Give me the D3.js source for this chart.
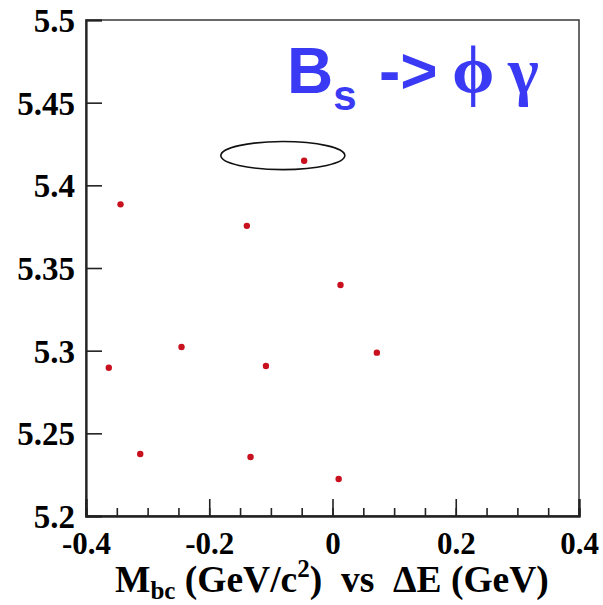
<!DOCTYPE html>
<html><head><meta charset="utf-8">
<script src="https://cdn.jsdelivr.net/npm/d3@7"></script>
<style>body{margin:0;background:#fff}svg{display:block}</style>
</head><body>
<svg id="c" width="603" height="605"></svg>
<script>
// Data
const deltaE = [-0.344, -0.139, 0.013, -0.245, -0.363, -0.108, 0.072, -0.312, -0.133, 0.010, -0.046];
const mbc    = [5.3885, 5.3755, 5.3397, 5.3022, 5.2897, 5.2907, 5.2988, 5.2375, 5.2357, 5.2224, 5.4149];
const xTickLabels = ["-0.4", "-0.2", "0", "0.2", "0.4"];
const xTickValues = [-0.4, -0.2, 0, 0.2, 0.4];
const yTickLabels = ["5.2", "5.25", "5.3", "5.35", "5.4", "5.45", "5.5"];
const yTickValues = [5.2, 5.25, 5.3, 5.35, 5.4, 5.45, 5.5];
const ellipseCenter = [-0.0806, 5.418];
const ellipseRadii = [0.1006, 0.0085];

const svg = d3.select("#c");
const L = 86, R = 579, T = 20, B = 516;
const x = d3.scaleLinear().domain([-0.4, 0.4]).range([L, R]);
const y = d3.scaleLinear().domain([5.2, 5.5]).range([B, T]);

// frame
svg.append("rect").attr("x", L).attr("y", T).attr("width", R - L).attr("height", B - T)
  .attr("fill", "none").attr("stroke", "#444").attr("stroke-width", 1.6);

const tickFont = "'Liberation Serif', 'Times New Roman', serif";

// x minor ticks
const xMinor = d3.range(-0.4, 0.4001, 0.05).map(v => +v.toFixed(2));
const gxMinor = svg.append("g").attr("transform", `translate(0,${B})`)
  .call(d3.axisBottom(x).tickValues(xMinor).tickSize(-8).tickFormat(""));
const gx = svg.append("g").attr("transform", `translate(0,${B})`)
  .call(d3.axisBottom(x).tickValues(xTickValues).tickSize(-17).tickPadding(16)
    .tickFormat((d, i) => xTickLabels[i]));
[gxMinor, gx].forEach(g => {
  g.select(".domain").attr("stroke", "#222").attr("stroke-width", 2.2);
  g.selectAll(".tick line").attr("stroke", "#222").attr("stroke-width", 1.6);
});
gx.selectAll(".tick text").attr("font-family", tickFont).attr("font-weight", "bold")
  .attr("font-size", 31).attr("fill", "#000").attr("dy", "0.71em");

const gy = svg.append("g").attr("transform", `translate(${L},0)`)
  .call(d3.axisLeft(y).tickValues(yTickValues).tickSize(-16).tickPadding(11)
    .tickFormat((d, i) => yTickLabels[i]));
gy.select(".domain").attr("stroke", "#222").attr("stroke-width", 2.2);
gy.selectAll(".tick line").attr("stroke", "#222").attr("stroke-width", 1.6);
gy.selectAll(".tick text").attr("font-family", tickFont).attr("font-weight", "bold")
  .attr("font-size", 33).attr("fill", "#000").attr("dy", "0.35em");

// ellipse
svg.append("ellipse")
  .attr("cx", x(ellipseCenter[0])).attr("cy", y(ellipseCenter[1]))
  .attr("rx", x(ellipseRadii[0]) - x(0)).attr("ry", y(5.2) - y(5.2 + ellipseRadii[1]))
  .attr("fill", "none").attr("stroke", "#111").attr("stroke-width", 1.6);

// points
svg.append("g").selectAll("circle").data(deltaE).join("circle")
  .attr("cx", d => x(d)).attr("cy", (d, i) => y(mbc[i])).attr("r", 3.2)
  .attr("fill", "#c8101e");

// title
const title = svg.append("text").attr("x", 287).attr("y", 93)
  .attr("fill", "#3a3af5").attr("font-weight", "bold");
title.append("tspan").attr("font-family", "'Liberation Sans', Arial, sans-serif").attr("font-size", 64).text("B");
title.append("tspan").attr("font-family", "'Liberation Sans', Arial, sans-serif").attr("font-size", 42).attr("dy", 17).text("s");
title.append("tspan").attr("font-family", "'Liberation Sans', Arial, sans-serif").attr("font-size", 64).attr("dy", -17).attr("x", 379).text("->");
title.append("tspan").attr("font-family", "'Liberation Serif', 'DejaVu Serif', serif").attr("font-size", 68).attr("x", 452).text("ϕ");
title.append("tspan").attr("font-family", "'Liberation Serif', serif").attr("font-size", 66).attr("x", 508).text("γ");

// x-axis title
const xt = svg.append("text").attr("x", 115).attr("y", 592)
  .style("white-space", "pre")
  .attr("font-family", tickFont).attr("font-weight", "bold").attr("font-size", 37.5).attr("fill", "#000");
xt.append("tspan").text("M");
xt.append("tspan").attr("font-size", 25).attr("dy", 7).text("bc");
xt.append("tspan").attr("dy", -7).text(" (GeV/c");
xt.append("tspan").attr("font-size", 25).attr("dy", -15).text("2");
xt.append("tspan").attr("dy", 15).text(")  vs  ΔE (GeV)");
</script>
</body></html>
